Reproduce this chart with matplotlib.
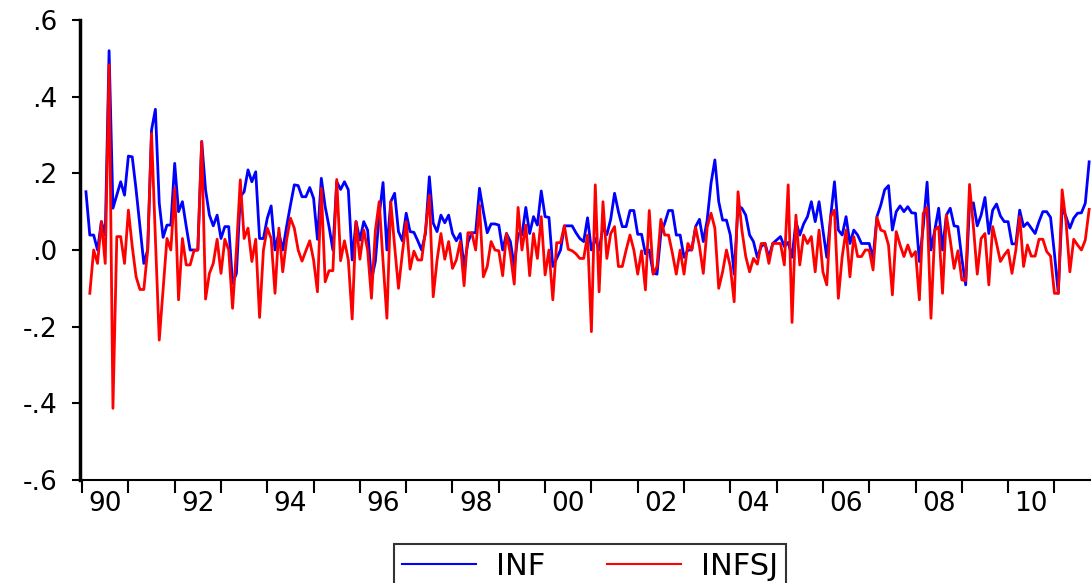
import numpy as np
import matplotlib.pyplot as plt

# monthly series, first observation 1990M02 (INFSJ missing for the first month)
inf = [0.152, 0.039, 0.039, 0.0, 0.074, 0.039, 0.52, 0.109, 0.143, 0.178,
       0.143, 0.245, 0.243, 0.157, 0.06, -0.035, 0.0, 0.313, 0.367, 0.122,
       0.033, 0.065, 0.065, 0.226, 0.1, 0.126, 0.061, 0.0, 0.0, 0.0,
       0.283, 0.157, 0.091, 0.063, 0.091, 0.03, 0.061, 0.061, -0.087, -0.061,
       0.139, 0.152, 0.209, 0.178, 0.204, 0.03, 0.03, 0.083, 0.115, 0.0,
       0.045, 0.0, 0.061, 0.117, 0.17, 0.168, 0.139, 0.139, 0.163, 0.135,
       0.028, 0.187, 0.113, 0.061, 0.0, 0.178, 0.158, 0.178, 0.157, -0.026,
       0.074, 0.026, 0.074, 0.052, -0.078, -0.03, 0.09, 0.176, 0.0, 0.126,
       0.148, 0.048, 0.024, 0.096, 0.048, 0.046, 0.024, 0.0, 0.043, 0.191,
       0.07, 0.048, 0.091, 0.071, 0.091, 0.043, 0.024, 0.043, -0.043, 0.02,
       0.045, 0.045, 0.161, 0.1, 0.045, 0.068, 0.068, 0.065, 0.0, 0.043,
       0.022, -0.043, 0.043, 0.039, 0.111, 0.043, 0.087, 0.065, 0.154, 0.087,
       0.085, -0.043, -0.022, 0.0, 0.063, 0.063, 0.063, 0.045, 0.03, 0.022,
       0.084, 0.0, 0.03, 0.0, 0.06, 0.04, 0.08, 0.148, 0.1, 0.061,
       0.061, 0.103, 0.103, 0.041, 0.041, -0.01, 0.0, -0.06, -0.063, 0.043,
       0.07, 0.103, 0.103, 0.039, 0.039, -0.019, 0.0, 0.0, 0.061, 0.08,
       0.022, 0.078, 0.174, 0.235, 0.126, 0.078, 0.078, 0.039, -0.063, 0.115,
       0.109, 0.091, 0.039, 0.022, -0.019, 0.009, 0.017, -0.019, 0.017, 0.026,
       0.035, 0.009, 0.02, -0.019, 0.074, 0.039, 0.068, 0.087, 0.126, 0.074,
       0.126, 0.052, -0.019, 0.087, 0.178, 0.052, 0.039, 0.087, 0.017, 0.052,
       0.039, 0.017, 0.017, 0.017, -0.022, 0.087, 0.117, 0.157, 0.168, 0.052,
       0.1, 0.115, 0.1, 0.113, 0.097, 0.096, -0.03, 0.06, 0.177, 0.0,
       0.052, 0.109, 0.0, 0.091, 0.109, 0.063, 0.061, -0.022, -0.091, 0.117,
       0.123, 0.063, 0.091, 0.137, 0.043, 0.104, 0.12, 0.089, 0.074, 0.074,
       0.016, 0.016, 0.104, 0.061, 0.071, 0.057, 0.043, 0.074, 0.1, 0.1,
       0.085, -0.009, -0.113, 0.111, 0.087, 0.057, 0.083, 0.096, 0.097, 0.122,
       0.23]

infsj = [np.nan, -0.113, 0.0, -0.035, 0.074, -0.035, 0.483, -0.413, 0.035, 0.035,
         -0.035, 0.104, 0.009, -0.07, -0.103, -0.103, 0.0, 0.304, 0.03, -0.235,
         -0.104, 0.03, 0.0, 0.161, -0.13, 0.03, -0.039, -0.039, -0.002, 0.0,
         0.283, -0.128, -0.061, -0.035, 0.028, -0.061, 0.028, 0.0, -0.152, 0.0,
         0.183, 0.03, 0.057, -0.03, 0.028, -0.176, 0.0, 0.057, 0.03, -0.113,
         0.057, -0.057, 0.026, 0.083, 0.057, 0.0, -0.029, -0.002, 0.024, -0.026,
         -0.109, 0.161, -0.083, -0.054, -0.054, 0.184, -0.028, 0.024, -0.026, -0.18,
         0.074, -0.024, 0.052, 0.0, -0.126, 0.05, 0.126, -0.03, -0.178, 0.126,
         0.01, -0.1, -0.009, 0.074, -0.05, -0.003, -0.026, -0.026, 0.052, 0.143,
         -0.122, -0.026, 0.043, -0.024, 0.022, -0.048, -0.026, 0.022, -0.093, 0.045,
         0.045, 0.0, 0.117, -0.07, -0.043, 0.022, 0.0, -0.002, -0.067, 0.043,
         -0.01, -0.089, 0.111, 0.0, 0.065, -0.067, 0.043, -0.022, 0.087, -0.065,
         0.0, -0.13, 0.019, 0.019, 0.063, 0.002, -0.002, -0.01, -0.022, -0.022,
         0.039, -0.213, 0.17, -0.109, 0.126, -0.022, 0.043, 0.061, -0.043, -0.043,
         0.0, 0.039, 0.0, -0.063, -0.002, -0.104, 0.103, -0.063, -0.043, 0.08,
         0.039, 0.039, -0.009, -0.063, 0.0, -0.063, 0.017, 0.0, 0.059, 0.01,
         -0.061, 0.059, 0.096, 0.057, -0.1, -0.057, 0.0, -0.043, -0.135, 0.152,
         0.052, -0.017, -0.057, -0.022, -0.037, 0.017, 0.017, -0.035, 0.017, 0.017,
         0.017, -0.039, 0.17, -0.189, 0.091, -0.039, 0.039, 0.017, 0.035, -0.057,
         0.052, -0.057, -0.091, 0.087, 0.104, -0.126, -0.017, 0.052, -0.07, 0.035,
         -0.017, -0.017, 0.0, 0.0, -0.052, 0.085, 0.052, 0.048, 0.013, -0.117,
         0.048, 0.013, -0.017, 0.013, -0.017, -0.004, -0.13, 0.096, 0.111, -0.178,
         0.052, 0.061, -0.113, 0.091, 0.026, -0.048, -0.002, -0.078, -0.08, 0.171,
         0.061, -0.063, 0.03, 0.043, -0.091, 0.061, 0.017, -0.03, -0.013, 0.0,
         -0.061, 0.0, 0.087, -0.043, 0.013, -0.016, -0.016, 0.028, 0.028, -0.004,
         -0.016, -0.113, -0.113, 0.157, 0.074, -0.057, 0.028, 0.013, 0.0, 0.026,
         0.106]

start_year = 1990
start_month = 2
tick_years = list(range(1990, 2012))
label_years = list(range(1990, 2011, 2))
y_ticks = [-0.6, -0.4, -0.2, 0.0, 0.2, 0.4, 0.6]
y_labels = ["-.6", "-.4", "-.2", ".0", ".2", ".4", ".6"]

t = start_year + (start_month - 1 + np.arange(len(inf))) / 12.0

plt.rcParams['font.family'] = ['DejaVu Sans']

W, H = 1091, 583
fig = plt.figure(figsize=(W / 100, H / 100), dpi=100)
ax = fig.add_axes([80 / W, 1 - 480 / H, 1 - 80 / W, 460 / H])

ax.plot(t, inf, color="#0000ff", linewidth=2.0, label="INF")
ax.plot(t, infsj, color="#ff0000", linewidth=2.0, label="INFSJ")

ax.set_xlim(1989.955, 2011.79)
ax.set_ylim(-0.6, 0.6)

ax.set_yticks(y_ticks)
ax.set_yticklabels(y_labels, fontsize=19)
ax.set_xticks(tick_years)
ax.set_xticklabels([])
ax.set_xticks([y + 0.5 for y in label_years], minor=True)
ax.set_xticklabels([str(y)[2:] for y in label_years], minor=True, fontsize=19)
ax.tick_params(axis='x', which='major', direction='out', length=9, width=1.5)
ax.tick_params(axis='x', which='minor', length=0, pad=8)
ax.tick_params(axis='y', direction='out', length=6, width=1.5, pad=10)

for side in ['top', 'right']:
    ax.spines[side].set_visible(False)
ax.spines['left'].set_linewidth(2.5)
ax.spines['bottom'].set_linewidth(1.5)

leg = fig.legend(loc='upper center', bbox_to_anchor=(590 / W, 1 - 544 / H),
                 borderaxespad=0, ncol=2, fontsize=22, frameon=True,
                 fancybox=False, handlelength=2.45, handletextpad=0.65,
                 columnspacing=2.0, borderpad=0.25)
leg.get_frame().set_edgecolor('black')
leg.get_frame().set_linewidth(1.5)
for line in leg.get_lines():
    line.set_linewidth(1.5)

fig.savefig("out.png", dpi=100)
